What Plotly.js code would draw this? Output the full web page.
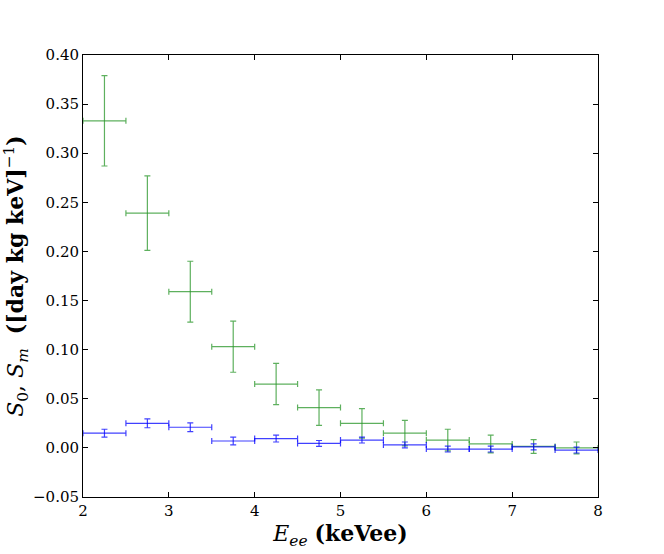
<!DOCTYPE html>
<html>
<head>
<meta charset="utf-8">
<script src="https://cdn.plot.ly/plotly-3.0.1.min.js"></script>
<style>
  html, body { margin: 0; padding: 0; background: #fff; }
  #chart { width: 664px; height: 554px; }
</style>
</head>
<body>
<div id="chart"></div>
<script>
/* ── S0 / Sm spectrum with binned error bars ── */

const BIN_CENTERS = [2.25, 2.75, 3.25, 3.75, 4.25, 4.75, 5.25, 5.75, 6.25, 6.75, 7.25, 7.75];
const BIN_HALF = 0.25;

const S0_VALUES = [0.333, 0.239, 0.159, 0.103, 0.065, 0.041, 0.025, 0.015, 0.008, 0.004, 0.0015, 0.000];
const S0_ERRORS = [0.046, 0.038, 0.031, 0.026, 0.021, 0.018, 0.015, 0.013, 0.011, 0.009, 0.007, 0.006];

const SM_VALUES = [0.015, 0.025, 0.021, 0.007, 0.0095, 0.0045, 0.008, 0.003, -0.0012, -0.0012, 0.001, -0.0022];
const SM_ERRORS = [0.004, 0.0045, 0.0045, 0.004, 0.0035, 0.003, 0.003, 0.003, 0.003, 0.003, 0.003, 0.003];

const GREEN = 'rgba(40,150,40,0.75)';
const BLUE = 'rgba(0,0,255,0.75)';
const SERIF = '"DejaVu Serif", serif';

function binTrace(values, errors, color) {
    return {
        x: BIN_CENTERS,
        y: values,
        type: 'scatter',
        mode: 'markers',
        marker: { size: 1, color: 'rgba(0,0,0,0)' },
        error_x: { type: 'constant', value: BIN_HALF, color, thickness: 1.2, width: 3 },
        error_y: { type: 'data', array: errors, color, thickness: 1.2, width: 3 },
        showlegend: false,
        hoverinfo: 'x+y',
    };
}

const traces = [
    binTrace(S0_VALUES, S0_ERRORS, GREEN),
    binTrace(SM_VALUES, SM_ERRORS, BLUE),
];

const axisCommon = {
    showline: true, linecolor: '#000', linewidth: 1, mirror: 'ticks',
    ticks: 'inside', ticklen: 5, tickcolor: '#000', tickwidth: 1,
    showgrid: false, zeroline: false,
    tickfont: { family: SERIF, size: 15, color: '#000' },
};

const layout = {
    width: 664, height: 554,
    margin: { l: 83, r: 66, t: 55, b: 57 },
    paper_bgcolor: '#fff', plot_bgcolor: '#fff',
    xaxis: {
        ...axisCommon,
        range: [2, 8], dtick: 1, tick0: 2,
        title: {
            text: '<i>E<sub>ee</sub></i> <b>(keVee)</b>',
            font: { family: SERIF, size: 22, color: '#000' }, standoff: 3,
        },
    },
    yaxis: {
        ...axisCommon,
        range: [-0.05, 0.40], dtick: 0.05, tick0: 0, tickformat: '.2f',
        title: {
            text: '<i>S</i><sub>0</sub>, <i>S<sub>m</sub></i>  <b>([day kg keV]</b><sup>−1</sup><b>)</b>',
            font: { family: SERIF, size: 22, color: '#000' }, standoff: 8,
        },
    },
};

Plotly.newPlot('chart', traces, layout, { displayModeBar: false, staticPlot: true });
</script>
</body>
</html>
